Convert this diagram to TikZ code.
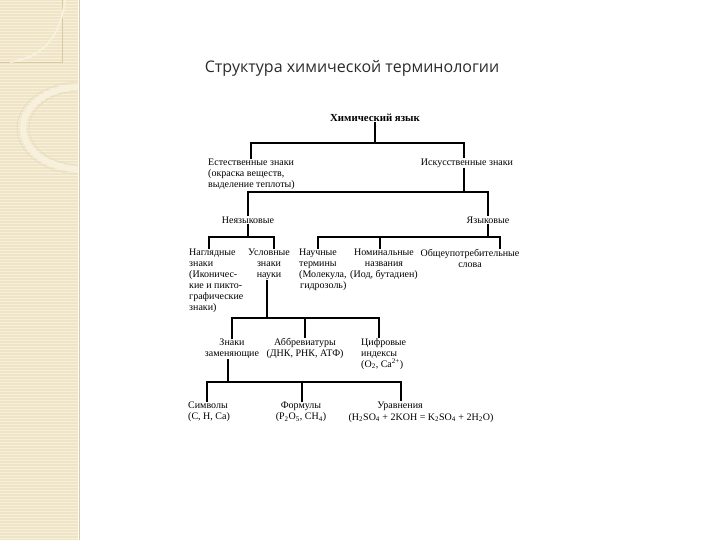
\documentclass[tikz,border=0pt]{standalone}
\usepackage{fontspec}
\setmainfont{Liberation Serif}
\newfontfamily\titlefont{Open Sans}
\usetikzlibrary{calc}
\definecolor{stripfill}{HTML}{EFE4C6}
\definecolor{stripline}{HTML}{F7F0DC}
\definecolor{stripedge}{HTML}{D8C9A2}
\definecolor{titletext}{HTML}{2B2B2B}
\tikzset{
  term/.style   = {inner sep=0pt, font=\fontsize{10}{11}\selectfont},
  title/.style  = {inner sep=0pt, font=\titlefont\fontsize{16}{19}\selectfont, text=titletext},
  tree/.style   = {line width=1.5pt},
}

\begin{document}
\begin{tikzpicture}[x=1pt, y=-1pt]
  \useasboundingbox (0,0) rectangle (720,540);
  % left decorative strip
  \fill[stripfill] (0,0) rectangle (78,540);
  \foreach \yy in {1,4,...,540}
    \draw[stripline, line width=0.8pt] (0,\yy) -- (78,\yy);
  \draw[stripedge, line width=0.6pt] (79,0) -- (79,540);
  \draw[stripedge, line width=0.5pt] (0,62) -- (62,62) -- (62,0);
  \draw[stripline, line width=2pt] (65,0) .. controls (60,40) and (40,58) .. (10,62);
  \begin{scope}
    \clip (0,0) rectangle (78,540);
    \draw[stripedge!70, line width=0.5pt] (80,128) ellipse (63 and 46);
    \draw[stripline, line width=6pt] (80,128) ellipse (57 and 41);
    \draw[stripedge!70, line width=0.5pt] (80,128) ellipse (51 and 37);
  \end{scope}

  \node[title] (head) at (352,68) {Структура химической терминологии};

  % nodes
  \node[term, font=\fontsize{10.8}{12}\selectfont\bfseries] (chem) at (375,118) {Химический язык};
  \node[term, anchor=north west, align=left] (natural) at (208,159)
    {Естественные знаки\\(окраска веществ,\\выделение теплоты)};
  \node[term] (artif) at (467,163) {Искусственные знаки};
  \node[term] (nonling) at (248,220) {Неязыковые};
  \node[term] (ling) at (488,220) {Языковые};
  \node[term, anchor=north west, align=left] (visual) at (189,249)
    {Наглядные\\знаки\\(Иконичес-\\кие и пикто-\\графические\\знаки)};
  \node[term, anchor=north, align=center] (conv) at (269,249)
    {Условные\\знаки\\науки};
  \node[term, anchor=north west, align=left] (sci) at (299,249)
    {Научные\\термины\\(Молекула,\\\hspace{1pt}гидрозоль)};
  \node[term, anchor=north, align=center] (nomin) at (384,249)
    {Номинальные\\названия\\(Иод, бутадиен)};
  \node[term, anchor=north, align=center] (common) at (470,249)
    {Общеупотребительные\\слова};
  \node[term, anchor=north, align=center] (subst) at (232,339)
    {Знаки\\заменяющие};
  \node[term, anchor=north, align=center] (abbr) at (305,338)
    {Аббревиатуры\\(ДНК, РНК, АТФ)};
  \node[term, anchor=north west, align=left] (digit) at (361,338)
    {Цифровые\\индексы\\(O\textsubscript{2}, Ca\textsuperscript{2+})};
  \node[term, anchor=north west, align=left] (symb) at (188,402)
    {Символы\\(C, H, Ca)};
  \node[term, anchor=north, align=center] (formul) at (301,402)
    {Формулы\\(P\textsubscript{2}O\textsubscript{5}, CH\textsubscript{4})};
  \node[term] (eqn) at (400,406) {Уравнения};
  \node[term] (eqnform) at (421,418)
    {(H\textsubscript{2}SO\textsubscript{4} + 2KOH = K\textsubscript{2}SO\textsubscript{4} + 2H\textsubscript{2}O)};

  % bus points
  \coordinate (k1) at (251,143);
  \coordinate (k2) at (464,143);
  \coordinate (n1) at (248,192);
  \coordinate (n2) at (488,192);
  \coordinate (p1) at (209,237);
  \coordinate (p2) at (274,237);
  \coordinate (q1) at (318,237);
  \coordinate (q2) at (380,237);
  \coordinate (q3) at (500,237);
  \coordinate (r0) at (267,318);
  \coordinate (r1) at (232,318);
  \coordinate (r2) at (305,318);
  \coordinate (r3) at (379,318);
  \coordinate (s0) at (228,382);
  \coordinate (s1) at (207,382);
  \coordinate (s2) at (302,382);
  \coordinate (s3) at (401,382);

  % connectors
  \draw[tree] (chem.south) -- (chem.south |- k1);
  \draw[tree] (k1 |- natural.north) -- (k1) -- (k2) -- (k2 |- artif.north);
  \draw[tree] (k2 |- artif.south) -- (k2 |- n1);
  \draw[tree] (n1 |- nonling.north) -- (n1) -- (n2) -- (n2 |- ling.north);
  \draw[tree] (n1 |- nonling.south) -- (n1 |- p1);
  \draw[tree] (p1 |- visual.north) -- (p1) -- (p2) -- (p2 |- conv.north);
  \draw[tree] (n2 |- ling.south) -- (n2 |- q1);
  \draw[tree] (q1 |- sci.north) -- (q1) -- (q3) -- (q3 |- common.north);
  \draw[tree] (q2) -- (q2 |- nomin.north);
  \draw[tree] (r0 |- conv.south) -- (r0);
  \draw[tree] (r1 |- subst.north) -- (r1) -- (r3) -- (r3 |- digit.north);
  \draw[tree] (r2) -- (r2 |- abbr.north);
  \draw[tree] (s0 |- subst.south) -- (s0);
  \draw[tree] (s1 |- symb.north) -- (s1) -- (s3) -- (s3 |- eqn.north);
  \draw[tree] (s2) -- (s2 |- formul.north);
\end{tikzpicture}
\end{document}
